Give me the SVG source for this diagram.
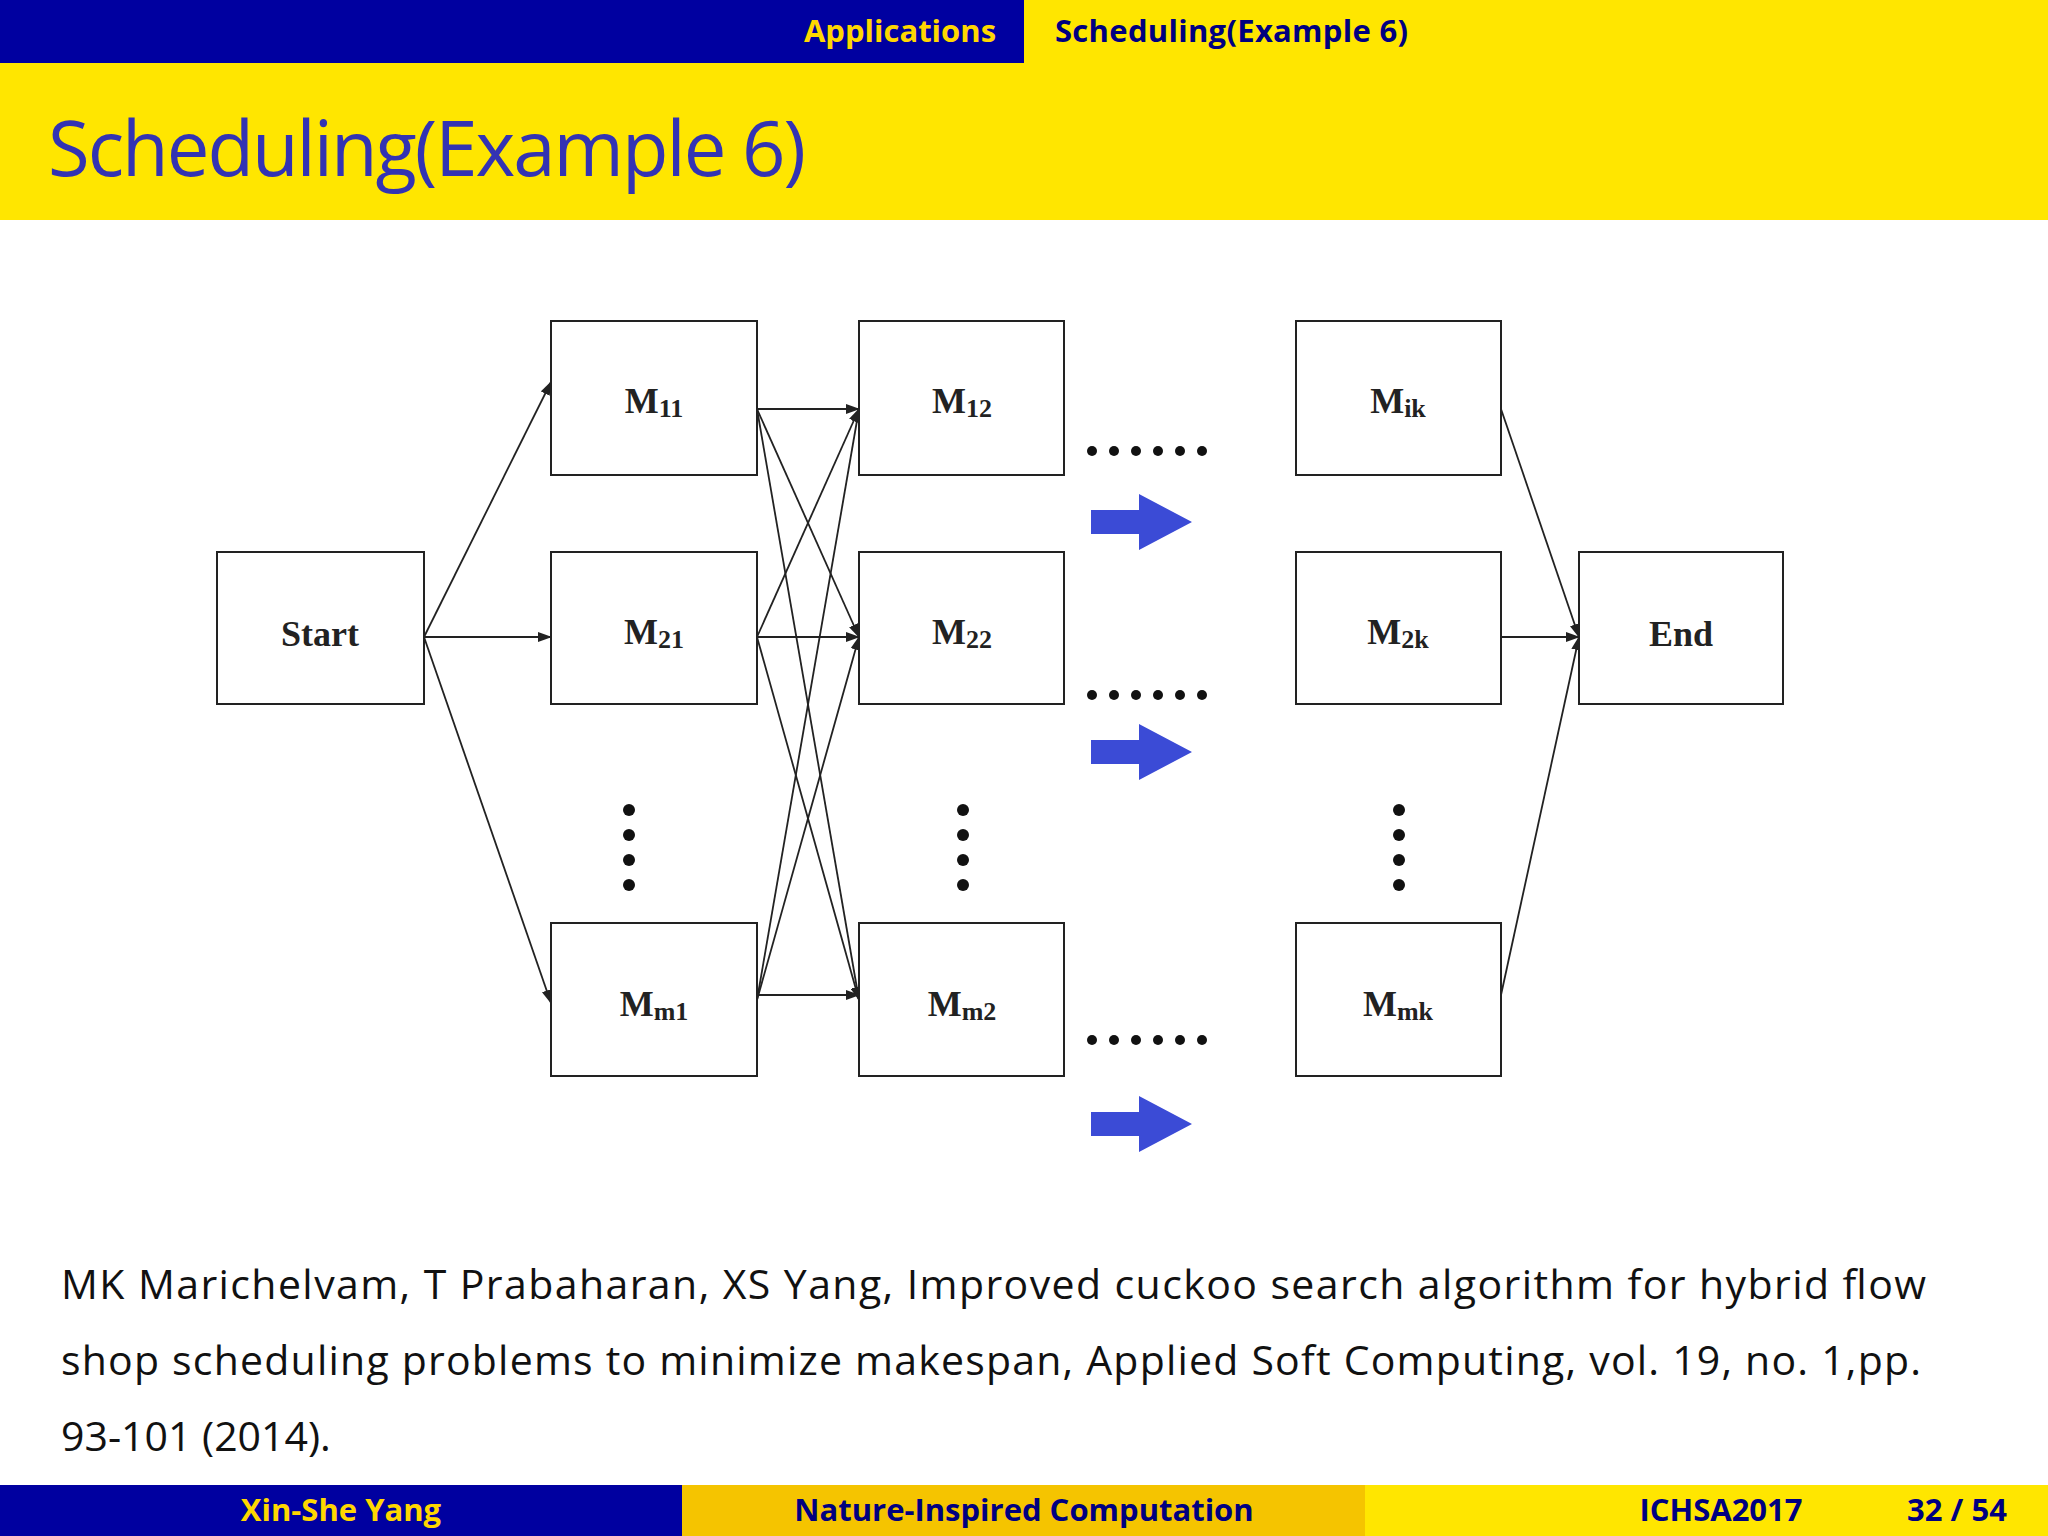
<svg xmlns="http://www.w3.org/2000/svg" width="2048" height="1536" viewBox="0 0 2048 1536">
<style>
.box{fill:#fff;stroke:#222;stroke-width:2}
.lbl{font-family:"Liberation Serif",serif;font-weight:bold;font-size:36px;fill:#222;text-anchor:middle}
.sub{font-size:26px}
.e{stroke:#222;stroke-width:1.8;fill:none;marker-end:url(#ah)}
.hd{font-family:"Open Sans","DejaVu Sans",sans-serif;font-weight:bold;font-size:31px}
.body{font-family:"Open Sans","Liberation Sans",sans-serif;font-size:41px;fill:#111}
</style>
<defs>
<marker id="ah" markerWidth="14" markerHeight="10" refX="13" refY="5" orient="auto" markerUnits="userSpaceOnUse"><path d="M0,0 L14,5 L0,10 z" fill="#222"/></marker>
<path id="blue" d="M0,-12 L48,-12 L48,-28 L101,0 L48,28 L48,12 L0,12 z" fill="#3b4bd6"/>
<g id="hd"><circle cx="0" cy="0" r="5"/><circle cx="22" cy="0" r="5"/><circle cx="44" cy="0" r="5"/><circle cx="66" cy="0" r="5"/><circle cx="88" cy="0" r="5"/><circle cx="110" cy="0" r="5"/></g>
<g id="vd"><circle cx="0" cy="0" r="6"/><circle cx="0" cy="25" r="6"/><circle cx="0" cy="50" r="6"/><circle cx="0" cy="75" r="6"/></g>
</defs>
<rect width="2048" height="1536" fill="#fff"/>
<rect x="0" y="0" width="1024" height="63" fill="#0000a0"/>
<rect x="1024" y="0" width="1024" height="63" fill="#ffe600"/>
<text x="900" y="42" class="hd" fill="#ffd700" text-anchor="middle">Applications</text>
<text x="1055" y="42" class="hd" fill="#000080" textLength="353">Scheduling(Example 6)</text>
<rect x="0" y="63" width="2048" height="157" fill="#ffe600"/>
<text x="48" y="176" font-family="Open Sans,DejaVu Sans,sans-serif" font-size="76" fill="#3333b3" textLength="758">Scheduling(Example 6)</text>

<g id="connectors">
<line class="e" x1="424" y1="637" x2="551" y2="382"/>
<line class="e" x1="424" y1="637" x2="551" y2="637"/>
<line class="e" x1="424" y1="637" x2="551" y2="1003"/>
<line class="e" x1="757" y1="409" x2="859" y2="409"/>
<line class="e" x1="757" y1="409" x2="859" y2="637"/>
<line class="e" x1="757" y1="409" x2="859" y2="1000"/>
<line class="e" x1="757" y1="637" x2="859" y2="409"/>
<line class="e" x1="757" y1="637" x2="859" y2="637"/>
<line class="e" x1="757" y1="637" x2="859" y2="1000"/>
<line class="e" x1="757" y1="1000" x2="859" y2="409"/>
<line class="e" x1="757" y1="1000" x2="859" y2="637"/>
<line class="e" x1="757" y1="995" x2="859" y2="995"/>
<line class="e" x1="1501" y1="409" x2="1579" y2="637"/>
<line class="e" x1="1501" y1="637" x2="1579" y2="637"/>
<line class="e" x1="1501" y1="995" x2="1579" y2="637"/>
</g>

<g id="start"><rect class="box" x="217" y="552" width="207" height="152"/><text class="lbl" x="320" y="646">Start</text></g>
<g id="m11"><rect class="box" x="551" y="321" width="206" height="154"/><text class="lbl" x="654" y="413">M<tspan class="sub" dy="4">11</tspan></text></g>
<g id="m21"><rect class="box" x="551" y="552" width="206" height="152"/><text class="lbl" x="654" y="644">M<tspan class="sub" dy="4">21</tspan></text></g>
<g id="mm1"><rect class="box" x="551" y="923" width="206" height="153"/><text class="lbl" x="654" y="1016">M<tspan class="sub" dy="4">m1</tspan></text></g>
<g id="m12"><rect class="box" x="859" y="321" width="205" height="154"/><text class="lbl" x="962" y="413">M<tspan class="sub" dy="4">12</tspan></text></g>
<g id="m22"><rect class="box" x="859" y="552" width="205" height="152"/><text class="lbl" x="962" y="644">M<tspan class="sub" dy="4">22</tspan></text></g>
<g id="mm2"><rect class="box" x="859" y="923" width="205" height="153"/><text class="lbl" x="962" y="1016">M<tspan class="sub" dy="4">m2</tspan></text></g>
<g id="mik"><rect class="box" x="1296" y="321" width="205" height="154"/><text class="lbl" x="1398" y="413">M<tspan class="sub" dy="4">ik</tspan></text></g>
<g id="m2k"><rect class="box" x="1296" y="552" width="205" height="152"/><text class="lbl" x="1398" y="644">M<tspan class="sub" dy="4">2k</tspan></text></g>
<g id="mmk"><rect class="box" x="1296" y="923" width="205" height="153"/><text class="lbl" x="1398" y="1016">M<tspan class="sub" dy="4">mk</tspan></text></g>
<g id="end"><rect class="box" x="1579" y="552" width="204" height="152"/><text class="lbl" x="1681" y="646">End</text></g>

<g fill="#111">
<use href="#hd" x="1092" y="451"/><use href="#hd" x="1092" y="695"/><use href="#hd" x="1092" y="1040"/>
<use href="#vd" x="629" y="810"/><use href="#vd" x="963" y="810"/><use href="#vd" x="1399" y="810"/>
</g>
<use href="#blue" x="1091" y="522"/><use href="#blue" x="1091" y="752"/><use href="#blue" x="1091" y="1124"/>

<text class="body" x="61" y="1299" textLength="1865">MK Marichelvam, T Prabaharan, XS Yang, Improved cuckoo search algorithm for hybrid flow</text>
<text class="body" x="61" y="1375" textLength="1860">shop scheduling problems to minimize makespan, Applied Soft Computing, vol. 19, no. 1,pp.</text>
<text class="body" x="61" y="1451">93-101 (2014).</text>

<rect x="0" y="1485" width="682" height="51" fill="#0000a0"/>
<rect x="682" y="1485" width="683" height="51" fill="#f5c400"/>
<rect x="1365" y="1485" width="683" height="51" fill="#ffe600"/>
<text x="341" y="1521" class="hd" fill="#ffd700" text-anchor="middle">Xin-She Yang</text>
<text x="1024" y="1521" class="hd" fill="#000080" text-anchor="middle">Nature-Inspired Computation</text>
<text x="1721" y="1521" class="hd" fill="#000080" text-anchor="middle">ICHSA2017</text>
<text x="1957" y="1521" class="hd" fill="#000080" text-anchor="middle">32 / 54</text>
</svg>
